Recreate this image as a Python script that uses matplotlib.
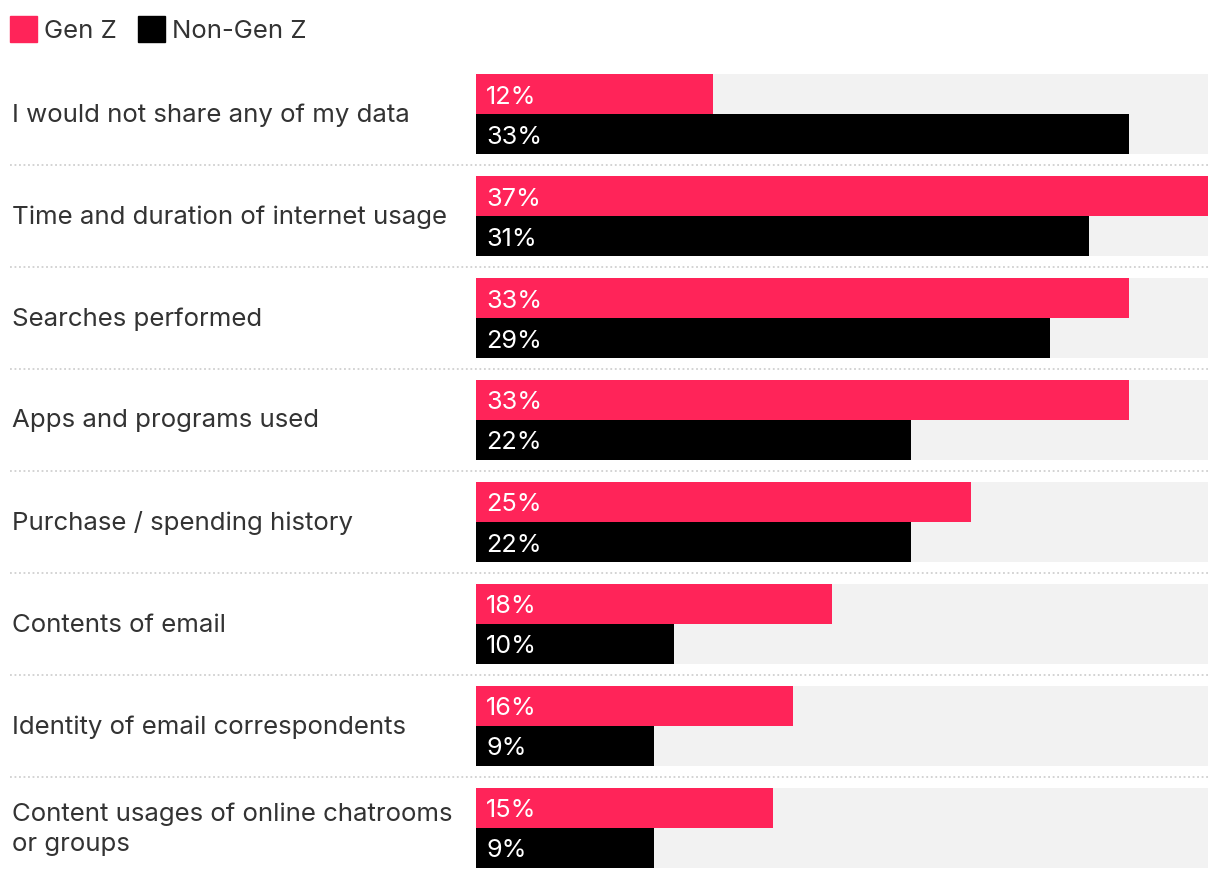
import matplotlib.pyplot as plt
from matplotlib.patches import Rectangle

plt.rcParams['font.family'] = ['Inter', 'DejaVu Sans']

categories = [
    "I would not share any of my data",
    "Time and duration of internet usage",
    "Searches performed",
    "Apps and programs used",
    "Purchase / spending history",
    "Contents of email",
    "Identity of email correspondents",
    "Content usages of online chatrooms\nor groups",
]
gen_z = [12, 37, 33, 33, 25, 18, 16, 15]
non_gen_z = [33, 31, 29, 22, 22, 10, 9, 9]
max_val = 37

PINK = '#FF2459'
BLACK = '#000000'
GRAY = '#F2F2F2'
TEXT = '#333333'

W, H = 1220, 878
fig = plt.figure(figsize=(W / 100, H / 100), dpi=100)
ax_left, ax_right = 476 / W, 1208 / W
ax_top = (H - 64) / H
ax_bottom = (H - 880) / H
ax = fig.add_axes([ax_left, ax_bottom, ax_right - ax_left, ax_top - ax_bottom])
ax.set_xlim(0, max_val)
ax.set_ylim(len(categories) - 0.5, -0.5)
ax.axis('off')

bh = 40 / 102
n = len(categories)
ys = list(range(n))

# grey track, then the two bars per group
ax.barh(ys, [max_val] * n, height=2 * bh, color=GRAY, zorder=1)
ax.barh([y - bh / 2 for y in ys], gen_z, height=bh, color=PINK, zorder=2)
ax.barh([y + bh / 2 for y in ys], non_gen_z, height=bh, color=BLACK, zorder=2)

lbl_x = -(476 - 12) / 732 * max_val
val_x = 10 / 732 * max_val
dy = 2 / 102
for i, (cat, g, ng) in enumerate(zip(categories, gen_z, non_gen_z)):
    ax.text(lbl_x, i, cat, ha='left', va='center', fontsize=18.6, color=TEXT,
            linespacing=1.4, clip_on=False)
    ax.text(val_x, i - bh / 2 + dy, f"{g}%", ha='left', va='center', fontsize=18.2,
            color='white', zorder=3)
    ax.text(val_x, i + bh / 2 + dy, f"{ng}%", ha='left', va='center', fontsize=18.2,
            color='white', zorder=3)
    if i < n - 1:
        ax.axhline(i + 0.5, xmin=-(476 - 10) / 732, xmax=1, color='#D0D0D0',
                   linestyle=(0, (1, 1.5)), linewidth=1.3, clip_on=False)

# legend
for x0, col, name in [(10, PINK, "Gen Z"), (138, BLACK, "Non-Gen Z")]:
    fig.patches.append(Rectangle((x0 / W, (H - 43) / H), 27 / W, 26 / H,
                                 transform=fig.transFigure, color=col))
    fig.text((x0 + 34) / W, (H - 32) / H, name, ha='left', va='center',
             fontsize=18.5, color=TEXT)

fig.savefig('out.png', dpi=100)
